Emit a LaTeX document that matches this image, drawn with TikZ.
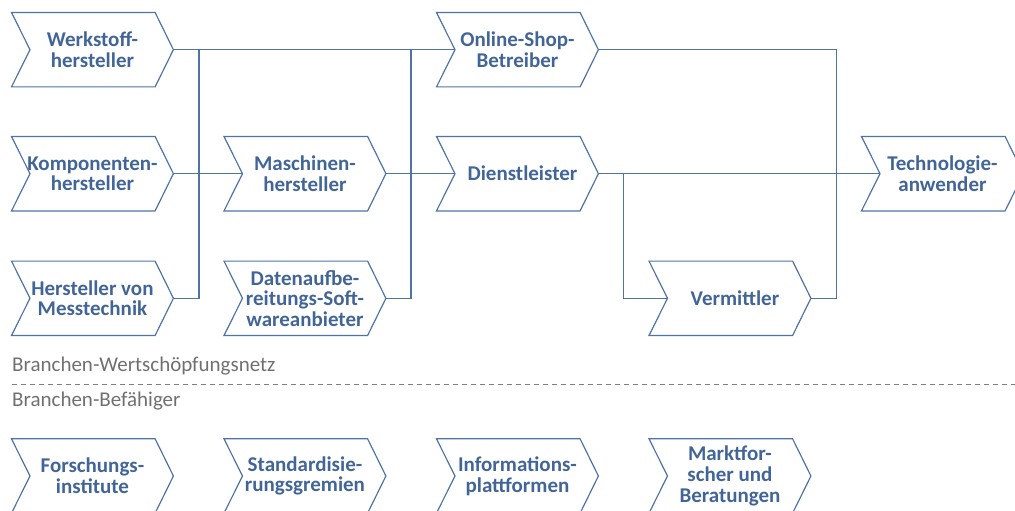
\documentclass[tikz,border=0pt]{standalone}
\usepackage{fontspec}
\setmainfont{Carlito}
\usetikzlibrary{calc}
\definecolor{chevblue}{RGB}{79,115,166}
\definecolor{txtblue}{RGB}{66,101,152}
\definecolor{labgray}{RGB}{112,112,112}
\definecolor{dashgray}{RGB}{128,128,128}
\tikzset{
  chev/.style={minimum width=161.5pt, minimum height=74pt, inner sep=0pt, align=center,
    text=txtblue, font=\fontsize{21}{20.7}\selectfont\bfseries},
  chevline/.style={draw=chevblue, line width=1.2pt, line join=miter},
  conn/.style={draw=chevblue, line width=1.2pt},
  sectlabel/.style={anchor=base west, inner sep=0pt, text=labgray, font=\fontsize{21}{24}\selectfont},
  sepline/.style={draw=dashgray, line width=1pt, dash pattern=on 5pt off 4pt}
}
\newcommand\chevpath[1]{\draw[chevline] (#1.north west) -- ([xshift=-18.3pt]#1.north east) -- (#1.east) -- ([xshift=-18.3pt]#1.south east) -- (#1.south west) -- ([xshift=18.5pt]#1.west) -- cycle;}
\begin{document}
\begin{tikzpicture}[x=1pt,y=-1pt]
\useasboundingbox (0,0) rectangle (1015,511);
\clip (0,0) rectangle (1015,511);
% chevrons
\node[chev] (ws) at (92.45,49.7) {Werkstoff-\\hersteller};
\node[chev] (kh) at (92.45,173.7) {Komponenten-\\hersteller};
\node[chev] (mt) at (92.45,298.3) {Hersteller von\\Messtechnik};
\node[chev] (mh) at (304.95,173.7) {Maschinen-\\hersteller};
\node[chev] (da) at (304.95,298.3) {Datenaufbe-\\reitungs-Soft-\\wareanbieter};
\node[chev] (os) at (517.45,49.7) {Online-Shop-\\Betreiber};
\node[chev] (dl) at (517.45,173.7) {\hspace*{10pt}Dienstleister};
\node[chev] (vm) at (729.95,298.3) {\hspace*{10pt}Vermittler};
\node[chev] (ta) at (942.45,173.7) {Technologie-\\anwender};
\node[chev] (fi) at (92.45,476) {Forschungs-\\institute};
\node[chev] (sg) at (304.95,476) {Standardisie-\\rungsgremien};
\node[chev] (ip) at (517.45,476) {Informations-\\plattformen};
\node[chev] (mf) at (729.95,476) {Marktfor-\\scher und\\Beratungen};
\foreach \n in {ws,kh,mt,mh,da,os,dl,vm,ta,fi,sg,ip,mf} {\chevpath{\n}}
% notch points
\coordinate (os-n) at ([xshift=18.5pt]os.west);
\coordinate (mh-n) at ([xshift=18.5pt]mh.west);
\coordinate (dl-n) at ([xshift=18.5pt]dl.west);
\coordinate (ta-n) at ([xshift=18.5pt]ta.west);
\coordinate (vm-n) at ([xshift=18.5pt]vm.west);
% junctions
\coordinate (j1) at (199,49.7);
\coordinate (j2) at (411,49.7);
\coordinate (j3) at (836.7,298.3);
\coordinate (j4) at (623.3,173.7);
% connectors
\draw[conn] (ws.east) -- (os-n);
\draw[conn] (kh.east) -- (mh-n);
\draw[conn] (mt.east) -| (j1);
\draw[conn] (mh.east) -- (dl-n);
\draw[conn] (da.east) -| (j2);
\draw[conn] (os.east) -| (j3) -- (vm.east);
\draw[conn] (dl.east) -- (ta-n);
\draw[conn] (j4) |- (vm-n);
% section labels
\node[sectlabel] (netz) at (12,371.7) {Branchen-Wertschöpfungsnetz};
\node[sectlabel] (bef) at (12,406.7) {Branchen-Befähiger};
\coordinate (sepL) at (12,384);
\coordinate (sepR) at (1015,384);
\draw[sepline] (sepL) -- (sepR);
\end{tikzpicture}
\end{document}
